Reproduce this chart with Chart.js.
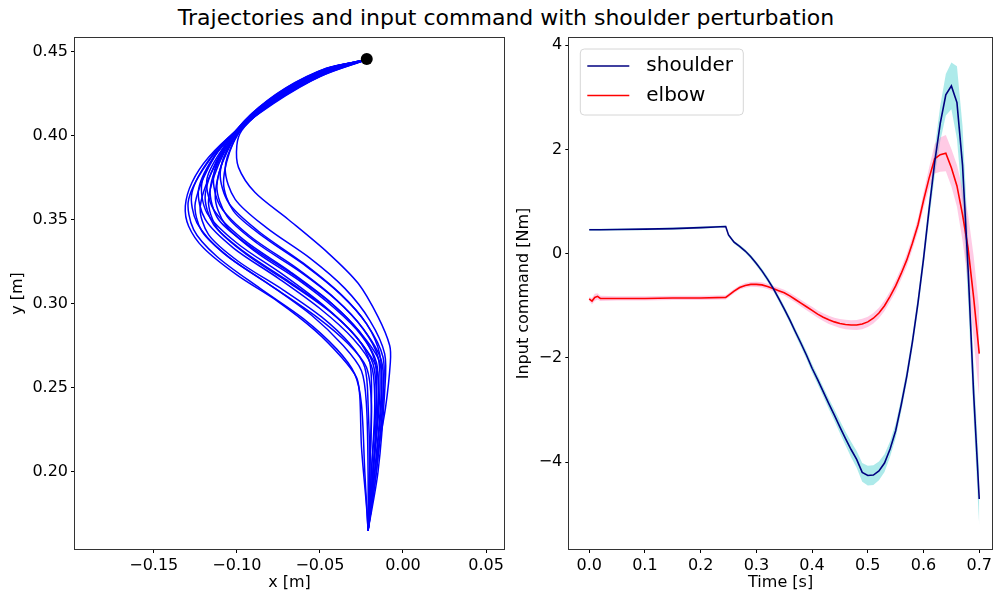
<!DOCTYPE html>
<html>
<head>
<meta charset="utf-8">
<title>Trajectories and input command</title>
<script src="https://cdn.jsdelivr.net/npm/chart.js@4.4.1/dist/chart.umd.min.js"></script>
<style>
  body { margin: 0; background: #fff; overflow: hidden; }
  #title { position: absolute; left: 0; top: 4px; width: 1012px; text-align: center;
           font: 22px "DejaVu Sans", sans-serif; line-height: 28px; color: #000; }
  canvas { position: absolute; top: 0; }
</style>
</head>
<body>
<div id="title">Trajectories and input command with shoulder perturbation</div>
<canvas id="trajChart" width="510" height="596" style="left:0"></canvas>
<canvas id="inputChart" width="485" height="596" style="left:510px"></canvas>
<script>
// Trajektorier, [x, y] i meter
const trajectories = [
    [[-0.022,0.445],[-0.050,0.435],[-0.078,0.419],[-0.100,0.403],[-0.117,0.387],[-0.127,0.372],[-0.131,0.358],[-0.129,0.346],[-0.120,0.333],[-0.100,0.317],[-0.075,0.301],[-0.053,0.284],[-0.037,0.268],[-0.028,0.256],[-0.026,0.245],[-0.025,0.215],[-0.022,0.180],[-0.021,0.165]],
    [[-0.022,0.445],[-0.049,0.436],[-0.076,0.421],[-0.098,0.404],[-0.116,0.386],[-0.129,0.362],[-0.126,0.344],[-0.112,0.328],[-0.086,0.309],[-0.060,0.291],[-0.040,0.273],[-0.029,0.258],[-0.025,0.240],[-0.023,0.200],[-0.021,0.165]],
    [[-0.022,0.445],[-0.048,0.437],[-0.075,0.423],[-0.097,0.406],[-0.115,0.388],[-0.127,0.366],[-0.124,0.348],[-0.108,0.330],[-0.080,0.311],[-0.055,0.293],[-0.036,0.275],[-0.025,0.260],[-0.022,0.240],[-0.021,0.200],[-0.021,0.165]],
    [[-0.022,0.445],[-0.048,0.437],[-0.074,0.423],[-0.096,0.406],[-0.113,0.388],[-0.125,0.360],[-0.121,0.343],[-0.104,0.327],[-0.077,0.309],[-0.052,0.292],[-0.033,0.276],[-0.022,0.262],[-0.019,0.240],[-0.020,0.200],[-0.021,0.165]],
    [[-0.022,0.445],[-0.047,0.438],[-0.073,0.425],[-0.095,0.408],[-0.112,0.390],[-0.123,0.368],[-0.119,0.350],[-0.102,0.333],[-0.075,0.315],[-0.050,0.297],[-0.030,0.279],[-0.019,0.263],[-0.017,0.240],[-0.019,0.200],[-0.021,0.165]],
    [[-0.022,0.445],[-0.047,0.439],[-0.072,0.426],[-0.094,0.409],[-0.111,0.391],[-0.121,0.372],[-0.118,0.354],[-0.100,0.336],[-0.072,0.317],[-0.048,0.299],[-0.029,0.281],[-0.016,0.262],[-0.015,0.238],[-0.018,0.200],[-0.021,0.165]],
    [[-0.022,0.445],[-0.047,0.438],[-0.072,0.425],[-0.093,0.409],[-0.109,0.391],[-0.119,0.365],[-0.114,0.347],[-0.096,0.331],[-0.070,0.314],[-0.046,0.297],[-0.028,0.280],[-0.018,0.264],[-0.016,0.240],[-0.018,0.200],[-0.021,0.165]],
    [[-0.022,0.445],[-0.046,0.440],[-0.071,0.428],[-0.092,0.412],[-0.108,0.393],[-0.118,0.374],[-0.114,0.356],[-0.096,0.338],[-0.068,0.319],[-0.044,0.301],[-0.026,0.283],[-0.014,0.265],[-0.013,0.240],[-0.017,0.200],[-0.021,0.165]],
    [[-0.022,0.445],[-0.046,0.439],[-0.071,0.426],[-0.092,0.411],[-0.107,0.392],[-0.116,0.368],[-0.111,0.350],[-0.092,0.334],[-0.066,0.317],[-0.043,0.300],[-0.026,0.283],[-0.017,0.266],[-0.016,0.245],[-0.019,0.200],[-0.021,0.165]],
    [[-0.022,0.445],[-0.046,0.440],[-0.070,0.428],[-0.091,0.413],[-0.106,0.395],[-0.114,0.376],[-0.110,0.358],[-0.092,0.340],[-0.064,0.321],[-0.041,0.303],[-0.024,0.285],[-0.013,0.266],[-0.012,0.242],[-0.016,0.200],[-0.021,0.165]],
    [[-0.022,0.445],[-0.046,0.439],[-0.070,0.427],[-0.090,0.412],[-0.104,0.394],[-0.112,0.370],[-0.106,0.352],[-0.088,0.336],[-0.062,0.319],[-0.040,0.302],[-0.024,0.285],[-0.015,0.268],[-0.014,0.245],[-0.018,0.200],[-0.021,0.165]],
    [[-0.022,0.445],[-0.045,0.440],[-0.069,0.429],[-0.089,0.414],[-0.103,0.397],[-0.110,0.378],[-0.105,0.360],[-0.087,0.343],[-0.060,0.324],[-0.038,0.306],[-0.022,0.288],[-0.012,0.268],[-0.012,0.245],[-0.016,0.200],[-0.021,0.165]],
    [[-0.022,0.445],[-0.045,0.439],[-0.069,0.428],[-0.089,0.413],[-0.102,0.396],[-0.108,0.372],[-0.102,0.355],[-0.083,0.339],[-0.058,0.322],[-0.037,0.305],[-0.022,0.288],[-0.014,0.270],[-0.013,0.248],[-0.017,0.200],[-0.021,0.165]],
    [[-0.022,0.445],[-0.045,0.440],[-0.068,0.429],[-0.088,0.415],[-0.101,0.398],[-0.107,0.380],[-0.101,0.362],[-0.082,0.345],[-0.056,0.327],[-0.035,0.309],[-0.020,0.290],[-0.011,0.270],[-0.011,0.248],[-0.015,0.200],[-0.021,0.165]],
    [[-0.022,0.445],[-0.048,0.436],[-0.074,0.422],[-0.095,0.406],[-0.111,0.386],[-0.122,0.358],[-0.117,0.341],[-0.099,0.325],[-0.072,0.308],[-0.049,0.292],[-0.032,0.276],[-0.023,0.262],[-0.021,0.240],[-0.020,0.200],[-0.021,0.165]],
    [[-0.022,0.445],[-0.047,0.438],[-0.072,0.424],[-0.093,0.408],[-0.108,0.389],[-0.117,0.362],[-0.112,0.345],[-0.094,0.329],[-0.068,0.312],[-0.045,0.296],[-0.028,0.280],[-0.020,0.265],[-0.019,0.240],[-0.020,0.200],[-0.021,0.165]],
    [[-0.022,0.445],[-0.046,0.439],[-0.071,0.426],[-0.092,0.410],[-0.106,0.391],[-0.113,0.364],[-0.107,0.347],[-0.089,0.331],[-0.063,0.314],[-0.041,0.297],[-0.025,0.281],[-0.016,0.265],[-0.015,0.242],[-0.018,0.200],[-0.021,0.165]],
    [[-0.022,0.445],[-0.045,0.440],[-0.066,0.429],[-0.085,0.415],[-0.097,0.403],[-0.100,0.394],[-0.099,0.381],[-0.089,0.366],[-0.069,0.350],[-0.045,0.330],[-0.027,0.312],[-0.015,0.292],[-0.008,0.275],[-0.0076,0.265],[-0.0105,0.238],[-0.015,0.213],[-0.019,0.185],[-0.021,0.165]]
];
const startX = [-0.0218];
const startY = [0.4455];

const posXTicks = [-0.15, -0.10, -0.05, 0.00, 0.05];
const posXLabels = ["\u22120.15", "\u22120.10", "\u22120.05", "0.00", "0.05"];
const posYTicks = [0.20, 0.25, 0.30, 0.35, 0.40, 0.45];
const posYLabels = ["0.20", "0.25", "0.30", "0.35", "0.40", "0.45"];

// Input command (medel och standardavvikelse)
const time = [0, 0.005, 0.01, 0.015, 0.02, 0.05, 0.10, 0.15, 0.20, 0.245,
    0.25, 0.26, 0.27, 0.28, 0.29, 0.30, 0.31, 0.32, 0.33, 0.34,
    0.35, 0.36, 0.37, 0.38, 0.39, 0.40, 0.41, 0.42, 0.43, 0.44,
    0.45, 0.46, 0.47, 0.48, 0.49, 0.50, 0.51, 0.52, 0.53, 0.54,
    0.55, 0.56, 0.57, 0.58, 0.59, 0.60, 0.61, 0.62, 0.63, 0.64,
    0.65, 0.66, 0.67, 0.68, 0.69, 0.70];
const shoulderMean = [0.46, 0.46, 0.46, 0.46, 0.46, 0.465, 0.47, 0.48, 0.50, 0.52,
    0.36, 0.22, 0.14, 0.05, -0.06, -0.19, -0.33, -0.49, -0.66, -0.86,
    -1.06, -1.27, -1.50, -1.72, -1.95, -2.20, -2.42, -2.65, -2.88, -3.10,
    -3.33, -3.55, -3.76, -3.95, -4.20, -4.26, -4.25, -4.17, -4.02, -3.75,
    -3.40, -2.90, -2.35, -1.70, -0.95, -0.10, 0.85, 1.75, 2.50, 3.05,
    3.22, 2.90, 1.70, -0.30, -2.70, -4.71];
const shoulderStd = [0.02, 0.02, 0.02, 0.02, 0.02, 0.02, 0.02, 0.02, 0.02, 0.02,
    0.03, 0.03, 0.03, 0.035, 0.04, 0.04, 0.045, 0.05, 0.05, 0.055,
    0.06, 0.06, 0.065, 0.07, 0.075, 0.08, 0.085, 0.09, 0.10, 0.11,
    0.12, 0.13, 0.15, 0.16, 0.18, 0.19, 0.19, 0.18, 0.17, 0.15,
    0.14, 0.13, 0.13, 0.13, 0.14, 0.16, 0.20, 0.27, 0.34, 0.40,
    0.45, 0.70, 0.75, 0.60, 0.50, 0.52];
const elbowMean = [-0.87, -0.91, -0.84, -0.82, -0.86, -0.86, -0.86, -0.85, -0.85, -0.84,
    -0.80, -0.72, -0.65, -0.61, -0.59, -0.59, -0.60, -0.63, -0.67, -0.71,
    -0.75, -0.81, -0.88, -0.95, -1.02, -1.09, -1.16, -1.22, -1.27, -1.31,
    -1.34, -1.36, -1.37, -1.37, -1.35, -1.31, -1.24, -1.14, -1.00, -0.82,
    -0.62, -0.38, -0.12, 0.20, 0.55, 1.02, 1.45, 1.82, 1.90, 1.93,
    1.65, 1.30, 0.75, 0.10, -0.85, -1.92];
const elbowStd = [0.04, 0.06, 0.07, 0.06, 0.05, 0.04, 0.04, 0.04, 0.04, 0.04,
    0.04, 0.04, 0.04, 0.045, 0.045, 0.05, 0.05, 0.05, 0.05, 0.055,
    0.055, 0.06, 0.06, 0.065, 0.065, 0.07, 0.07, 0.075, 0.08, 0.08,
    0.085, 0.09, 0.09, 0.095, 0.10, 0.10, 0.10, 0.10, 0.10, 0.10,
    0.11, 0.11, 0.12, 0.12, 0.13, 0.15, 0.20, 0.28, 0.33, 0.35,
    0.36, 0.40, 0.50, 0.65, 0.80, 0.85];

const timeTicks = [0, 0.1, 0.2, 0.3, 0.4, 0.5, 0.6, 0.7];
const timeLabels = ["0.0", "0.1", "0.2", "0.3", "0.4", "0.5", "0.6", "0.7"];
const torqueTicks = [-4, -2, 0, 2, 4];
const torqueLabels = ["\u22124", "\u22122", "0", "2", "4"];

Chart.defaults.font.family = '"DejaVu Sans", sans-serif';
Chart.defaults.font.size = 16;
Chart.defaults.color = "#000";

// Ram runt ritytan
const framePlugin = {
    id: "frame",
    afterDraw(chart) {
        const { ctx, chartArea: a } = chart;
        ctx.save();
        ctx.strokeStyle = "#333";
        ctx.lineWidth = 1;
        ctx.strokeRect(Math.round(a.left) - 0.5, Math.round(a.top) - 0.5,
            Math.round(a.right - a.left) + 1, Math.round(a.bottom - a.top) + 1);
        ctx.restore();
    }
};

// Legend med ram, som i matplotlib
const boxLegend = {
    id: "boxLegend",
    afterDraw(chart) {
        const { ctx, chartArea: a } = chart;
        const x = a.left + 11, y = a.top + 11, w = 163, h = 66, r = 4;
        ctx.save();
        ctx.beginPath();
        ctx.moveTo(x + r, y);
        ctx.arcTo(x + w, y, x + w, y + h, r);
        ctx.arcTo(x + w, y + h, x, y + h, r);
        ctx.arcTo(x, y + h, x, y, r);
        ctx.arcTo(x, y, x + w, y, r);
        ctx.closePath();
        ctx.fillStyle = "rgba(255,255,255,0.8)";
        ctx.fill();
        ctx.strokeStyle = "#d6d6d6";
        ctx.lineWidth = 1;
        ctx.stroke();
        ctx.font = '20px "DejaVu Sans", sans-serif';
        ctx.textBaseline = "middle";
        [0, 1].forEach((i, k) => {
            const ds = chart.data.datasets[i];
            const ly = y + 17 + k * 29.5;
            ctx.strokeStyle = ds.borderColor;
            ctx.lineWidth = 1.6;
            ctx.beginPath();
            ctx.moveTo(x + 7, ly);
            ctx.lineTo(x + 49, ly);
            ctx.stroke();
            ctx.fillStyle = "#000";
            ctx.fillText(ds.label, x + 66, ly);
        });
        ctx.restore();
    }
};

function axis(min, max, ticks, labels, title, size, titlePad) {
    return {
        type: "linear",
        min: min,
        max: max,
        bounds: "data",
        afterFit: s => { if (s.isHorizontal()) s.height = size; else s.width = size; },
        afterBuildTicks: s => { s.ticks = ticks.map(v => ({ value: v })); },
        ticks: { autoSkip: false, maxRotation: 0, padding: 3, callback: (v, i) => labels[i] },
        grid: { drawOnChartArea: false, drawTicks: true, tickLength: 4, color: "#000", lineWidth: 1 },
        border: { display: false },
        title: { display: true, text: title, padding: titlePad }
    };
}

// Vänster diagram: trajektorier
new Chart(document.getElementById("trajChart"), {
    type: "scatter",
    data: {
        datasets: [{
            data: startX.map((x, i) => ({ x: x, y: startY[i] })),
            pointRadius: 6,
            backgroundColor: "#000",
            borderWidth: 0
        }].concat(trajectories.map(t => ({
            data: t.map(p => ({ x: p[0], y: p[1] })),
            showLine: true,
            borderColor: "#0000ff",
            borderWidth: 1.5,
            pointRadius: 0,
            tension: 0.3
        })))
    },
    options: {
        responsive: false,
        animation: false,
        events: [],
        layout: { padding: { top: 38, right: 3, left: 0, bottom: 0 } },
        plugins: { legend: { display: false }, tooltip: { enabled: false } },
        scales: {
            x: axis(-0.1974, 0.0608, posXTicks, posXLabels, "x [m]", 47, { top: 0, bottom: 4 }),
            y: axis(0.1539, 0.458, posYTicks, posYLabels, "y [m]", 75, { top: 8, bottom: 0 })
        }
    },
    plugins: [framePlugin]
});

// Höger diagram: input command
const pts = (arr) => arr.map((v, i) => ({ x: time[i], y: v }));
new Chart(document.getElementById("inputChart"), {
    type: "line",
    data: {
        datasets: [
            { label: "shoulder", data: pts(shoulderMean), borderColor: "#000080", borderWidth: 1.6, pointRadius: 0, tension: 0, fill: false },
            { label: "elbow", data: pts(elbowMean), borderColor: "#ff0000", borderWidth: 1.6, pointRadius: 0, tension: 0, fill: false },
            { data: pts(elbowMean.map((v, i) => v + elbowStd[i])), borderWidth: 0, pointRadius: 0, fill: 3, backgroundColor: "rgba(255,105,180,0.35)" },
            { data: pts(elbowMean.map((v, i) => v - elbowStd[i])), borderWidth: 0, pointRadius: 0, fill: false },
            { data: pts(shoulderMean.map((v, i) => v + shoulderStd[i])), borderWidth: 0, pointRadius: 0, fill: 5, backgroundColor: "rgba(0,191,191,0.32)" },
            { data: pts(shoulderMean.map((v, i) => v - shoulderStd[i])), borderWidth: 0, pointRadius: 0, fill: false }
        ]
    },
    options: {
        responsive: false,
        animation: false,
        events: [],
        layout: { padding: { top: 38, right: 1, left: 0, bottom: 0 } },
        plugins: { legend: { display: false }, tooltip: { enabled: false } },
        scales: {
            x: axis(-0.0357, 0.7227, timeTicks, timeLabels, "Time [s]", 47, { top: 0, bottom: 4 }),
            y: axis(-5.67, 4.14, torqueTicks, torqueLabels, "Input command [Nm]", 59.3, { top: 4, bottom: 0 })
        }
    },
    plugins: [framePlugin, boxLegend]
});
</script>
</body>
</html>
